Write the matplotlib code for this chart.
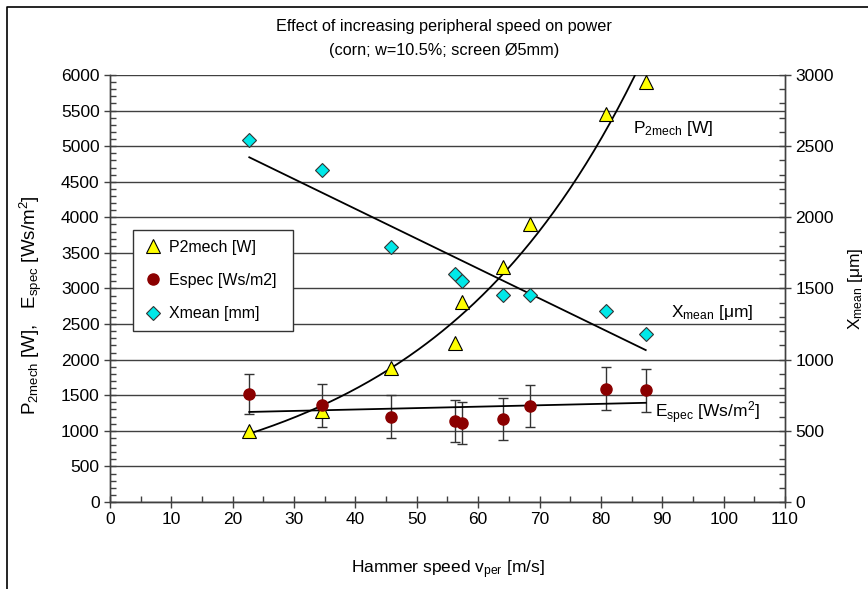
import numpy as np
import matplotlib
matplotlib.use("Agg")
import matplotlib.pyplot as plt
from matplotlib.lines import Line2D
from matplotlib.ticker import MultipleLocator

plt.rcParams['font.family'] = ['Liberation Sans', 'DejaVu Sans']
plt.rcParams['mathtext.fontset'] = 'custom'
plt.rcParams['mathtext.rm'] = 'Liberation Sans'
plt.rcParams['mathtext.it'] = 'Liberation Sans'
plt.rcParams['mathtext.bf'] = 'Liberation Sans'

# hammer peripheral speed [m/s]
speed = [22.7, 34.5, 45.8, 56.2, 57.3, 64.0, 68.4, 80.8, 87.3]
# mechanical power [W]
p2mech = [1000, 1280, 1880, 2240, 2810, 3300, 3910, 5450, 5900]
# specific energy [Ws/m2] and its error
espec = [1520, 1360, 1200, 1140, 1110, 1170, 1350, 1590, 1570]
espec_err = [285, 300, 297, 300, 295, 293, 295, 300, 305]
# mean particle size [um]
xmean = [2540, 2330, 1790, 1600, 1550, 1455, 1455, 1340, 1180]

v = np.array(speed)

fig = plt.figure(figsize=(8.68, 5.89), dpi=100)
ax = fig.add_axes([0.1267, 0.1477, 0.7777, 0.725])
ax2 = ax.twinx()

grid_col = '#404040'
ax.set_xlim(0, 110)
ax.set_ylim(0, 6000)
ax2.set_ylim(0, 3000)
ax.xaxis.set_major_locator(MultipleLocator(10))
ax.xaxis.set_minor_locator(MultipleLocator(5))
ax.yaxis.set_major_locator(MultipleLocator(500))
ax.yaxis.set_minor_locator(MultipleLocator(100))
ax2.yaxis.set_major_locator(MultipleLocator(500))
ax2.yaxis.set_minor_locator(MultipleLocator(100))
ax.yaxis.grid(True, color=grid_col, lw=1.0)
ax.set_axisbelow(True)

for a in (ax, ax2):
    a.spines['top'].set_visible(False)
    for s in ('left', 'right', 'bottom'):
        a.spines[s].set_color(grid_col)
        a.spines[s].set_linewidth(1.0)
    a.tick_params(which='major', direction='inout', length=8, width=1, color=grid_col, labelsize=12.5)
    a.tick_params(which='minor', direction='in', length=4, width=1, color=grid_col)

# measured points
ax.errorbar(v, espec, yerr=espec_err, fmt='none', ecolor='#333333', elinewidth=1, capsize=3.5, capthick=1, zorder=3)
ln_p, = ax.plot(v, p2mech, ls='none', marker='^', ms=10, mfc='#FFFF00', mec='black', mew=0.8, zorder=5, label='P2mech [W]')
ln_e, = ax.plot(v, espec, ls='none', marker='o', ms=8, mfc='#8B0000', mec='#8B0000', zorder=5, label='Espec [Ws/m2]')
ln_x, = ax2.plot(v, xmean, ls='none', marker='D', ms=7.5, mfc='#00E8E8', mec='#333333', mew=0.8, zorder=5, label='Xmean [mm]')

# trend lines (Excel style: exponential for power, linear for the rest)
vf = np.linspace(v.min(), v.max(), 200)
b, lna = np.polyfit(v, np.log(p2mech), 1)
ax.plot(vf, np.exp(lna) * np.exp(b * vf), color='black', lw=1.3, zorder=4)
k, d = np.polyfit(v, espec, 1)
ax.plot(vf, k * vf + d, color='black', lw=1.3, zorder=4)
k2, d2 = np.polyfit(v, xmean, 1)
ax2.plot(vf, k2 * vf + d2, color='black', lw=1.3, zorder=4)

ax.text(85.2, 5255, r'P$_\mathregular{2mech}$ [W]', fontsize=12.5, va='center', ha='left')
ax.text(88.8, 1250, r'E$_\mathregular{spec}$ [Ws/m$^\mathregular{2}$]', fontsize=12.5, va='center', ha='left')
ax2.text(91.5, 1330, r'X$_\mathregular{mean}$ [$\mathregular{\mu}$m]', fontsize=12.5, va='center', ha='left')

ax.set_xlabel(r'Hammer speed v$_\mathregular{per}$ [m/s]', fontsize=12.5)
ax.set_ylabel(r'P$_\mathregular{2mech}$ [W],   E$_\mathregular{spec}$ [Ws/m$^\mathregular{2}$]', fontsize=13.5)
ax2.set_ylabel(r'X$_\mathregular{mean}$ [$\mathregular{\mu}$m]', fontsize=12.5)
ax.xaxis.set_label_coords(0.5, -0.131)
ax.yaxis.set_label_coords(-0.098, 0.46)
ax2.yaxis.set_label_coords(1.09, 0.5)

leg = ax2.legend(handles=[ln_p, ln_e, ln_x], loc='upper left',
                 bbox_to_anchor=(0.034, 0.337, 0.237, 0.3), mode='expand',
                 borderaxespad=0, fontsize=11.5, frameon=True, fancybox=False, framealpha=1,
                 edgecolor='#333333', labelspacing=1.15, handlelength=1.3, handletextpad=0.35,
                 borderpad=0.6)
leg.get_frame().set_linewidth(1.0)

fig.text(0.512, 1 - 27 / 589, 'Effect of increasing peripheral speed on power', ha='center', va='center', fontsize=11.7)
fig.text(0.512, 1 - 50 / 589, '(corn; w=10.5%; screen Ø5mm)', ha='center', va='center', fontsize=11.7)

# chart frame (only its left and top edges fall inside the picture)
fig.lines.append(Line2D([7 / 868, 7 / 868, 1.0], [0.0, 1 - 7 / 589, 1 - 7 / 589],
                        transform=fig.transFigure, color='black', lw=1.2))

fig.savefig('out.png', dpi=100)
